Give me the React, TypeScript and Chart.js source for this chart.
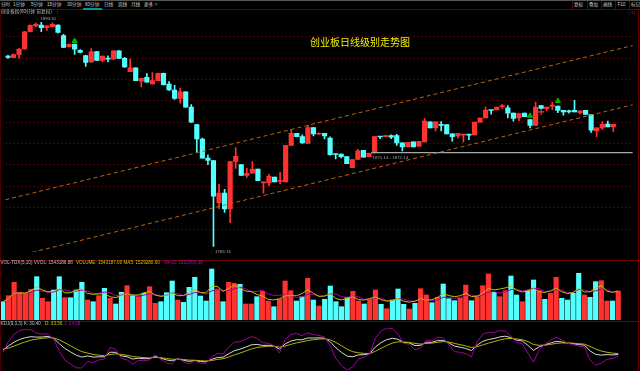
import React, { useEffect, useRef } from "react";
import { Chart, registerables } from "chart.js";

Chart.register(...registerables);

// ---------- data (60-minute candles, ChiNext index) ----------
const opens = [
  1962.0, 1960.6, 1963.5, 1968.6, 1984.8, 1990.2, 1991.1, 1988.6, 1989.5, 1990.9,
  1981.2, 1970.7, 1972.9, 1967.4, 1962.4, 1956.4, 1966.2, 1957.9, 1959.9, 1959.0,
  1966.8, 1959.9, 1947.4, 1951.0, 1938.4, 1942.0, 1936.0, 1939.0, 1945.9, 1935.7,
  1930.1, 1922.3, 1928.5, 1914.2, 1897.8, 1884.3, 1866.4, 1864.2, 1824.5, 1833.7,
  1818.8, 1863.3, 1860.4, 1850.2, 1852.3, 1856.2, 1843.3, 1843.3, 1848.7, 1844.7,
  1844.2, 1878.3, 1889.7, 1886.6, 1880.1, 1895.1, 1888.8, 1889.7, 1885.2, 1870.2,
  1870.2, 1867.8, 1857.4, 1865.1, 1873.8, 1867.8, 1872.1, 1886.6, 1886.6, 1887.5,
  1887.5, 1880.7, 1876.8, 1881.6, 1877.7, 1881.6, 1900.5, 1894.7, 1897.8, 1897.8,
  1889.1, 1887.3, 1887.9, 1888.4, 1888.2, 1900.1, 1904.0, 1911.5, 1911.5, 1914.6,
  1913.6, 1908.5, 1904.0, 1908.5, 1902.5, 1897.1, 1915.7, 1912.7, 1915.1, 1915.1,
  1911.2, 1910.2, 1911.2, 1909.1, 1911.2, 1907.3, 1891.8, 1894.7, 1898.3, 1895.6,
];
const closes = [
  1960.8, 1963.5, 1968.6, 1984.8, 1990.7, 1991.8, 1988.6, 1990.2, 1991.6, 1984.2,
  1970.1, 1973.1, 1968.5, 1965.3, 1956.1, 1966.0, 1957.9, 1962.0, 1959.2, 1966.8,
  1959.9, 1951.9, 1951.0, 1939.0, 1941.1, 1937.5, 1939.0, 1945.9, 1935.1, 1930.3,
  1922.3, 1928.5, 1914.2, 1900.1, 1884.3, 1866.4, 1864.2, 1830.8, 1833.7, 1818.8,
  1863.3, 1868.2, 1850.2, 1852.3, 1856.2, 1845.4, 1844.0, 1849.3, 1844.2, 1845.1,
  1878.3, 1889.7, 1886.6, 1880.7, 1895.1, 1889.1, 1889.7, 1887.3, 1869.6, 1869.8,
  1867.8, 1861.3, 1865.1, 1873.2, 1867.3, 1870.9, 1886.6, 1886.2, 1887.5, 1886.1,
  1880.7, 1876.8, 1881.3, 1876.8, 1882.2, 1901.0, 1894.7, 1900.5, 1897.1, 1889.1,
  1886.6, 1889.7, 1888.4, 1887.9, 1900.1, 1904.0, 1911.5, 1911.0, 1914.2, 1915.1,
  1908.5, 1903.7, 1908.2, 1905.2, 1897.1, 1914.2, 1913.0, 1914.2, 1915.5, 1911.2,
  1909.7, 1909.7, 1909.7, 1910.6, 1907.3, 1892.7, 1894.7, 1898.0, 1895.6, 1898.0,
];
const highs = [
  1962.6, 1964.0, 1968.9, 1985.1, 1991.3, 1993.1, 1993.6, 1990.4, 1993.1, 1991.3,
  1982.4, 1973.4, 1973.4, 1968.0, 1962.6, 1968.9, 1966.2, 1962.0, 1962.2, 1967.1,
  1967.1, 1960.8, 1959.3, 1951.0, 1941.1, 1945.6, 1946.5, 1946.0, 1946.0, 1938.1,
  1934.5, 1932.1, 1928.5, 1916.6, 1898.0, 1885.2, 1869.3, 1864.2, 1841.8, 1837.3,
  1863.3, 1876.2, 1860.4, 1856.8, 1863.3, 1856.2, 1844.2, 1851.4, 1848.7, 1853.2,
  1878.3, 1893.3, 1889.7, 1888.2, 1897.1, 1895.1, 1890.0, 1889.7, 1886.4, 1870.2,
  1870.2, 1867.8, 1865.1, 1874.7, 1873.8, 1871.1, 1886.6, 1886.6, 1887.7, 1888.2,
  1888.8, 1880.7, 1881.3, 1881.6, 1882.2, 1903.7, 1900.5, 1900.5, 1900.7, 1897.8,
  1889.1, 1889.7, 1888.4, 1888.4, 1900.1, 1904.0, 1914.2, 1911.5, 1914.2, 1916.6,
  1915.7, 1908.5, 1908.2, 1908.5, 1902.5, 1919.0, 1915.7, 1914.2, 1919.0, 1915.1,
  1911.2, 1911.5, 1920.5, 1910.6, 1911.2, 1907.3, 1894.7, 1900.7, 1901.0, 1898.0,
];
const lows = [
  1959.9, 1960.4, 1959.9, 1968.5, 1984.6, 1989.5, 1984.8, 1986.0, 1989.5, 1983.7,
  1969.8, 1970.3, 1963.5, 1964.9, 1952.3, 1955.9, 1957.7, 1956.4, 1956.4, 1959.0,
  1959.9, 1951.4, 1947.4, 1938.9, 1933.0, 1937.5, 1935.7, 1938.9, 1934.8, 1929.9,
  1921.4, 1918.0, 1914.2, 1899.8, 1871.8, 1866.4, 1860.4, 1783.74, 1819.4, 1815.5,
  1805.9, 1856.8, 1850.2, 1848.4, 1852.3, 1845.4, 1833.5, 1840.4, 1844.2, 1842.4,
  1844.2, 1878.3, 1886.4, 1880.1, 1880.1, 1887.3, 1888.6, 1884.3, 1869.3, 1865.7,
  1866.6, 1861.3, 1857.4, 1865.1, 1867.3, 1867.8, 1871.1, 1884.6, 1886.6, 1884.6,
  1878.3, 1873.2, 1876.8, 1876.8, 1877.4, 1881.6, 1894.7, 1892.0, 1892.0, 1889.1,
  1882.2, 1885.2, 1881.3, 1883.7, 1888.2, 1900.1, 1904.0, 1907.6, 1911.5, 1913.0,
  1904.0, 1901.0, 1901.6, 1905.2, 1894.7, 1897.1, 1913.0, 1910.6, 1911.8, 1909.1,
  1906.7, 1908.5, 1909.7, 1907.6, 1907.3, 1890.6, 1886.6, 1893.3, 1895.6, 1891.1,
];
const volumes = [
  974000, 1293000, 2006000, 1474000, 1421000, 1634000, 2304000, 1155000, 974000, 1596000,
  2304000, 1187000, 1187000, 1596000, 2006000, 1064000, 974000, 1293000, 1687000, 1155000,
  851000, 1474000, 1825000, 1293000, 1240000, 1421000, 1772000, 889000, 974000, 1453000,
  2075000, 1064000, 942000, 1740000, 2272000, 1277000, 1011000, 2714000, 1650000, 974000,
  2006000, 1953000, 1900000, 851000, 851000, 1240000, 1543000, 1011000, 708000, 1117000,
  2075000, 1559000, 1011000, 1240000, 2219000, 1064000, 745000, 1102000, 1809000, 974000,
  708000, 1208000, 1527000, 1011000, 851000, 1117000, 1596000, 835000, 601000, 1064000,
  1650000, 835000, 585000, 889000, 1666000, 1330000, 921000, 1208000, 1916000, 1133000,
  1027000, 1171000, 1862000, 1027000, 1240000, 1825000, 2448000, 1474000, 1240000, 1559000,
  2341000, 1330000, 974000, 1559000, 2129000, 1559000, 1102000, 1421000, 2272000, 1155000,
  1064000, 1421000, 2485000, 1330000, 1208000, 2038000, 2091000, 1011000, 1011000, 1543187,
];

// 110 candles + 3 empty slots on the right
const SLOT_COUNT = 113;
const slotLabels = Array.from({ length: SLOT_COUNT }, (_, i) => (i < opens.length ? `K${i + 1}` : ""));

// drawn trend lines (bar index, price)
const upperChannel = [{ x: -0.5, y: 1827.4 }, { x: 112.5, y: 1971.9 }];
const lowerChannel = [{ x: -0.5, y: 1772.0 }, { x: 112.5, y: 1916.4 }];
const supportLine = [{ x: 65.4, y: 1871.6 }, { x: 112.5, y: 1871.6 }];
const buySignals = [{ x: 12, y: 1976.1 }, { x: 94, y: 1906.1 }, { x: 99, y: 1920.0 }];
const sellSignals = [{ x: 96, y: 1909.7 }];

const PRICE_MIN = 1778.7;
const PRICE_MAX = 2001.2;
const VOL_MAX = 3086000;
const KDJ_SEED = 50;

const UP = "#ff3232";
const DOWN = "#54ffff";
const candleColors = opens.map((o, i) => (closes[i] >= o ? UP : DOWN));

function movingAverage(values: number[], n: number) {
  return values.map((_, i) => {
    const s = Math.max(0, i - n + 1);
    const part = values.slice(s, i + 1);
    return part.reduce((a, b) => a + b, 0) / part.length;
  });
}

function computeKDJ() {
  const K: number[] = [], D: number[] = [], J: number[] = [];
  let k = KDJ_SEED, d = KDJ_SEED;
  for (let i = 0; i < closes.length; i++) {
    const s = Math.max(0, i - 8);
    const lo = Math.min(...lows.slice(s, i + 1));
    const hi = Math.max(...highs.slice(s, i + 1));
    const rsv = hi === lo ? 50 : ((closes[i] - lo) / (hi - lo)) * 100;
    k = (2 * k + rsv) / 3;
    d = (2 * d + k) / 3;
    K.push(k); D.push(d); J.push(3 * k - 2 * d);
  }
  return { K, D, J };
}

const baseOpts: any = {
  responsive: false,
  animation: false,
  events: [],
  layout: { padding: 0 },
  plugins: { legend: { display: false }, tooltip: { enabled: false } },
};

function mainConfig(): any {
  return {
    type: "bar",
    data: {
      labels: slotLabels,
      datasets: [
        {
          type: "scatter", xAxisID: "x2", data: buySignals, pointStyle: "triangle",
          pointRadius: 3, backgroundColor: "#00b000", borderColor: "#00b000", order: -2,
        },
        {
          type: "scatter", xAxisID: "x2", data: sellSignals, pointStyle: "cross",
          pointRadius: 3, borderWidth: 1.2, borderColor: UP, backgroundColor: UP, order: -2,
        },
        {
          type: "line", xAxisID: "x2", data: upperChannel, borderColor: "#b8640c",
          borderWidth: 1, borderDash: [4, 3], pointRadius: 0, order: -1,
        },
        {
          type: "line", xAxisID: "x2", data: lowerChannel, borderColor: "#b8640c",
          borderWidth: 1, borderDash: [4, 3], pointRadius: 0, order: -1,
        },
        {
          type: "line", xAxisID: "x2", data: supportLine, borderColor: "#a8a8a8",
          borderWidth: 1.2, pointRadius: 0, order: -1,
        },
        {
          type: "bar", data: opens.map((o, i) => [o, closes[i]]), backgroundColor: candleColors,
          barThickness: 4.5, grouped: false, minBarLength: 1, borderWidth: 0, order: 1,
        },
        {
          type: "bar", data: lows.map((l, i) => [l, highs[i]]), backgroundColor: candleColors,
          barThickness: 1, grouped: false, borderWidth: 0, order: 2,
        },
      ],
    },
    options: {
      ...baseOpts,
      scales: {
        x: { type: "category", display: false, offset: true },
        x2: { type: "linear", display: false, min: -0.5, max: 112.5, offset: false },
        y: {
          min: PRICE_MIN, max: PRICE_MAX,
          border: { display: false, dash: [2, 2] },
          ticks: { display: false, stepSize: 20 },
          grid: { color: "#500000", drawTicks: false, lineWidth: 1 },
          afterBuildTicks: (axis: any) => {
            axis.ticks = axis.ticks.filter((t: any) => Math.abs(t.value / 20 - Math.round(t.value / 20)) < 1e-6);
          },
        },
      },
    },
  };
}

function volConfig(): any {
  return {
    type: "bar",
    data: {
      labels: slotLabels,
      datasets: [
        {
          type: "line", data: movingAverage(volumes, 5), borderColor: "#c0c000",
          borderWidth: 1, pointRadius: 0, order: -1,
        },
        {
          type: "line", data: movingAverage(volumes, 10), borderColor: "#a400a4",
          borderWidth: 1, pointRadius: 0, order: -1,
        },
        {
          type: "bar", data: volumes, backgroundColor: candleColors, barThickness: 4.5,
          borderWidth: 0, order: 1,
        },
      ],
    },
    options: {
      ...baseOpts,
      scales: {
        x: { type: "category", display: false, offset: true },
        y: { display: false, min: 0, max: VOL_MAX },
      },
    },
  };
}

function kdjConfig(): any {
  const { K, D, J } = computeKDJ();
  const all = [...K, ...D, ...J];
  const lo = Math.min(...all);
  const hi = Math.max(...all);
  return {
    type: "line",
    data: {
      labels: slotLabels,
      datasets: [
        { data: J, borderColor: "#a000a0", borderWidth: 1, pointRadius: 0, clip: 3 },
        { data: D, borderColor: "#b4b400", borderWidth: 1, pointRadius: 0, clip: 3 },
        { data: K, borderColor: "#d8d8d8", borderWidth: 1, pointRadius: 0, clip: 3 },
      ],
    },
    options: {
      ...baseOpts,
      scales: {
        x: { type: "category", display: false, offset: true },
        y: { display: false, min: lo, max: hi },
      },
    },
  };
}

const FONT = '"Liberation Sans", "Noto Sans CJK SC", sans-serif';

function Txt(props: { x: number; y: number; size: number; color: string; children: React.ReactNode }) {
  return (
    <div
      style={{
        position: "absolute", left: props.x, top: props.y, fontSize: props.size, color: props.color,
        lineHeight: 1, whiteSpace: "nowrap", fontFamily: FONT,
      }}
    >
      {props.children}
    </div>
  );
}

function Rect(props: { x: number; y: number; w: number; h: number; c: string }) {
  return <div style={{ position: "absolute", left: props.x, top: props.y, width: props.w, height: props.h, background: props.c }} />;
}

const periodTabs: [string, number][] = [
  ["分时", 1], ["1分钟", 13], ["5分钟", 31], ["15分钟", 47], ["30分钟", 67],
  ["60分钟", 85], ["日线", 104], ["周线", 118], ["月线", 131], ["更多 >", 144],
];
const toolButtons: [string, number][] = [
  ["复权", 574], ["叠加", 589], ["画线", 603], ["F10", 617.5], ["标记", 631],
];

export default function App() {
  const mainRef = useRef<HTMLCanvasElement>(null);
  const volRef = useRef<HTMLCanvasElement>(null);
  const kdjRef = useRef<HTMLCanvasElement>(null);

  useEffect(() => {
    const charts = [
      new Chart(mainRef.current as HTMLCanvasElement, mainConfig()),
      new Chart(volRef.current as HTMLCanvasElement, volConfig()),
      new Chart(kdjRef.current as HTMLCanvasElement, kdjConfig()),
    ];
    return () => charts.forEach((c) => c.destroy());
  }, []);

  const canvasStyle = (top: number, h: number): React.CSSProperties => ({
    position: "absolute", left: 0, top, width: 638, height: h, display: "block",
  });

  return (
    <div style={{ position: "fixed", left: 0, top: 0, width: 640, height: 371, background: "#000", overflow: "hidden" }}>
      {/* toolbar */}
      <Rect x={0} y={0} w={640} h={1} c="#555" />
      <Rect x={0} y={8.5} w={640} h={1} c="#6a0000" />
      <Rect x={83} y={8} w={19} h={1.5} c="#009c9c" />
      {periodTabs.map(([t, x]) => (
        <Txt key={t} x={x} y={2.6} size={4.6} color="#c8c8c8">{t}</Txt>
      ))}
      {[572, 586.5, 601, 615, 629].map((x) => (
        <Rect key={x} x={x} y={1} w={1} h={8} c="#6a0000" />
      ))}
      {toolButtons.map(([t, x]) => (
        <Txt key={t} x={x} y={2.6} size={4.6} color="#c8c8c8">{t}</Txt>
      ))}

      {/* panels */}
      <canvas ref={mainRef} width={638} height={248} style={canvasStyle(9, 248)} />
      <canvas ref={volRef} width={638} height={58} style={canvasStyle(262, 58)} />
      <canvas ref={kdjRef} width={638} height={42} style={canvasStyle(328, 42)} />

      {/* borders */}
      <Rect x={0} y={9} w={1} h={362} c="#4a0000" />
      <Rect x={638} y={9} w={1} h={362} c="#6a0000" />
      <Rect x={0} y={259.5} w={640} h={1} c="#6a0000" />
      <Rect x={0} y={320.5} w={640} h={1} c="#7a0000" />

      {/* main panel labels */}
      <Txt x={1} y={10.3} size={4.6} color="#b8b8b8">创业板指(60分钟 前复权)</Txt>
      <Txt x={56} y={9.2} size={6} color="#ff2020">↑</Txt>
      <Txt x={627} y={10} size={5} color="#d02020">◇□</Txt>
      <Txt x={36} y={17.4} size={4.4} color="#a8a8a8">←1993.61</Txt>
      <Txt x={310} y={38} size={10} color="#f0f000">创业板日线级别走势图</Txt>
      <Txt x={372.5} y={155.8} size={4.4} color="#a8a8a8">1871.14 - 1872.14</Txt>
      <Txt x={210.5} y={249.6} size={4.4} color="#a8a8a8">←1783.74</Txt>

      {/* volume header */}
      <Txt x={0.5} y={261} size={4.6} color="#c0c0c0">VOL-TDX(5,10) VVOL: 1543186.88</Txt>
      <Txt x={76} y={261} size={4.6} color="#c8c800">VOLUME: 1543187.00 MA5: 1529280.00</Txt>
      <Txt x={164} y={261} size={4.6} color="#c000c0">MA10: 1502566.38</Txt>

      {/* KDJ header */}
      <Txt x={0.5} y={321.6} size={4.6} color="#c0c0c0">KDJ(9,3,3) K: 30.40</Txt>
      <Txt x={45} y={321.6} size={4.6} color="#c8c800">D: 33.56</Txt>
      <Txt x={64} y={321.6} size={4.6} color="#c000c0">J: 24.08</Txt>
    </div>
  );
}
